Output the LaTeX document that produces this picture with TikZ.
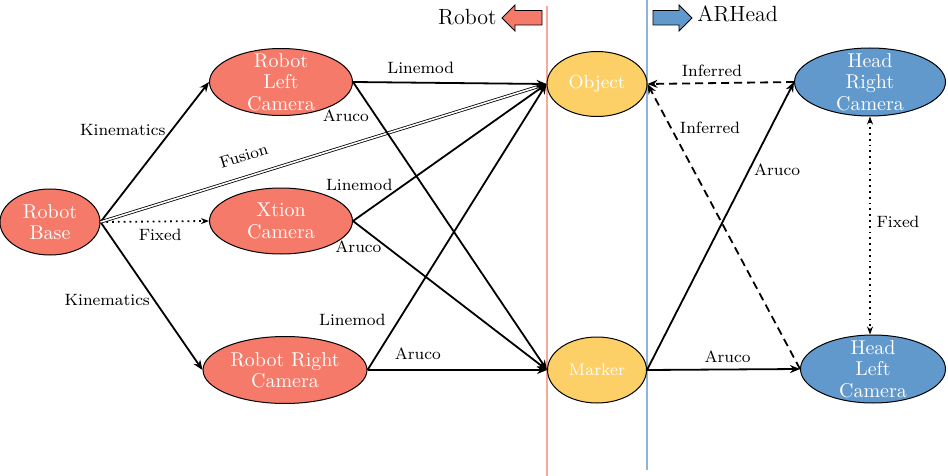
\documentclass[tikz,border=0pt]{standalone}
\usetikzlibrary{shapes.geometric,arrows.meta}
\definecolor{rfill}{RGB}{246,122,105}
\definecolor{yfill}{RGB}{252,208,102}
\definecolor{bfill}{RGB}{98,153,204}
\definecolor{rline}{RGB}{246,168,155}
\definecolor{bline}{RGB}{142,180,222}
\begin{document}
\begin{tikzpicture}[x=0.5pt,y=-0.5pt,
  ell/.style={ellipse, draw=black, line width=0.5pt, inner sep=0pt},
  redn/.style={ell, fill=rfill},
  yeln/.style={ell, fill=yfill},
  blun/.style={ell, fill=bfill},
  ntext/.style={text=white, align=center, inner sep=0pt, font=\fontsize{10}{10.7}\selectfont},
  otext/.style={ntext, font=\fontsize{9.4}{10.5}\selectfont},
  mtext/.style={ntext, font=\fontsize{8.4}{10}\selectfont},
  tip/.style={-{Stealth[length=5pt,width=4pt]}},
  conn/.style={line width=0.9pt, tip},
  dconn/.style={line width=0.9pt, tip, dash pattern=on 4pt off 2.5pt},
  fconn/.style={line width=0.9pt, dotted, -{Stealth[length=4pt,width=3pt]}},
  fusion/.style={line width=0.4pt, double, double distance=0.8pt, tip},
  lab/.style={font=\fontsize{8.2}{9}\selectfont, inner sep=0pt},
  head/.style={font=\fontsize{11}{12}\selectfont, inner sep=0pt},
  sepline/.style={line width=0.7pt},
]
\useasboundingbox (0,0) rectangle (948,476);

% separators
\draw[sepline, rline] (547,6) -- (547,476);
\draw[sepline, bline] (647,0) -- (647,470);

% header arrows
\draw[line width=0.4pt, fill=rfill] (502,18) -- (515,5) -- (515,10.5) -- (542,10.5) -- (542,25) -- (515,25) -- (515,31) -- cycle;
\draw[line width=0.4pt, fill=bfill] (692,18) -- (679,5) -- (679,10.5) -- (653,10.5) -- (653,25) -- (679,25) -- (679,31) -- cycle;
\node[head, anchor=base east] (trobot) at (497,25) {Robot};
\node[head, anchor=base west] (tarhead) at (697,22) {ARHead};

% nodes
\node[redn, minimum width=50pt, minimum height=33pt, label={[ntext]center:{Robot\\Base}}] (base) at (50,222) {};
\node[redn, minimum width=71.5pt, minimum height=33.5pt, label={[ntext]center:{Robot\\Left\\Camera}}] (lc) at (281,82) {};
\node[redn, minimum width=71.5pt, minimum height=33pt, label={[ntext]center:{Xtion\\Camera}}] (xt) at (281,221) {};
\node[redn, minimum width=82pt, minimum height=33.5pt, label={[ntext]center:{Robot Right\\Camera}}] (rc) at (285,370) {};
\node[yeln, minimum width=50pt, minimum height=32.5pt, label={[otext]center:{Object}}] (obj) at (597,84) {};
\node[yeln, minimum width=49.5pt, minimum height=33pt, label={[mtext]center:{Marker}}] (mk) at (597,370) {};
\node[blun, minimum width=75.5pt, minimum height=34pt, label={[ntext]center:{Head\\Right\\Camera}}] (hr) at (870,82) {};
\node[blun, minimum width=72.5pt, minimum height=34pt, label={[ntext]center:{Head\\Left\\Camera}}] (hl) at (873,369) {};

% robot base edges
\draw[conn] (base.east) -- (lc.west) node[lab, pos=0.657, shift={(-49,0)}] {Kinematics};
\draw[fconn] (base.east) -- (xt.west) node[lab, pos=0.55, shift={(0,13)}] {Fixed};
\draw[conn] (base.east) -- (rc.west) node[lab, pos=0.527, shift={(-47,0)}] {Kinematics};
\draw[fusion] (base.east) -- (obj.west) node[lab, pos=0.335, sloped, shift={(0,-21)}] {Fusion};

% camera edges
\draw[conn] (lc.east) -- (obj.west) node[lab, pos=0.35, shift={(0,-15)}] {Linemod};
\draw[conn] (lc.east) -- (mk.west) node[lab, pos=0.118, shift={(-30,0)}] {Aruco};
\draw[conn] (xt.east) -- (obj.west) node[lab, pos=0.1, shift={(-13,-22)}] {Linemod};
\draw[conn] (xt.east) -- (mk.west) node[lab, pos=0.1, shift={(-14,11)}] {Aruco};
\draw[conn] (rc.east) -- (obj.west) node[lab, pos=0.1, shift={(-33,-22)}] {Linemod};
\draw[conn] (rc.east) -- (mk.west) node[lab, pos=0.28, shift={(0,-16)}] {Aruco};

% head side
\draw[dconn] (hr.west) -- (obj.east) node[lab, pos=0.56, shift={(0,-12)}] {Inferred};
\draw[dconn] (hl.west) -- (obj.east) node[lab, pos=0.846, shift={(39,0)}] {Inferred};
\draw[conn] (mk.east) -- (hr.west) node[lab, pos=0.694, shift={(28,0)}] {Aruco};
\draw[conn] (mk.east) -- (hl.west) node[lab, pos=0.526, shift={(0,-13)}] {Aruco};
\draw[fconn, {Stealth[length=4pt,width=3pt]}-{Stealth[length=4pt,width=3pt]}] (hr.south) -- (hl.north -| hr.south) node[lab, pos=0.484, shift={(28,0)}] {Fixed};
\end{tikzpicture}
\end{document}
